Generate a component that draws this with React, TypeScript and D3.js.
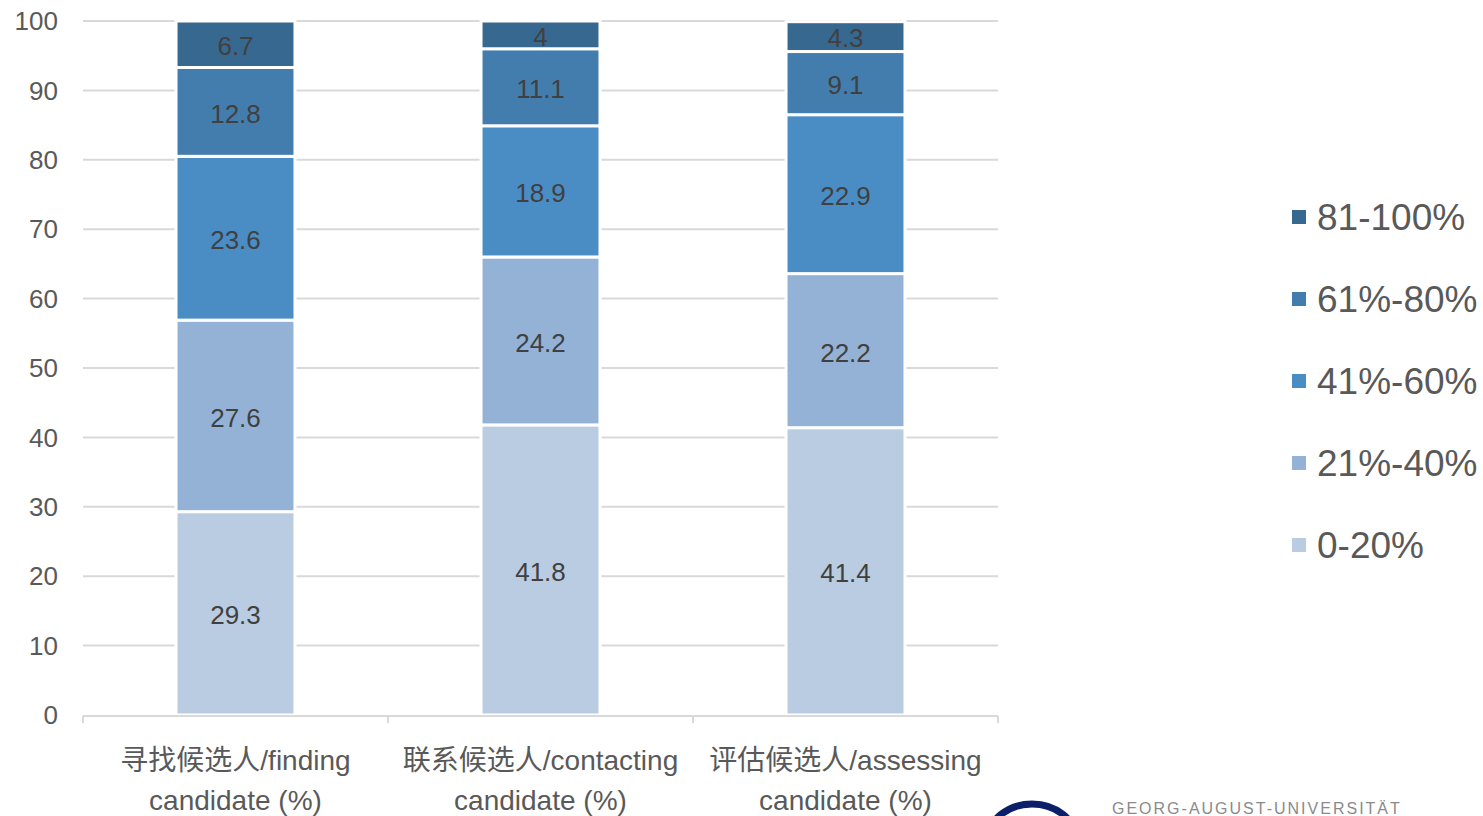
import React from "react";
import * as d3 from "d3";

const categories = ["寻找候选人/finding candidate (%)", "联系候选人/contacting candidate (%)", "评估候选人/assessing candidate (%)"];
const categoryLines = [
  ["寻找候选人/finding", "candidate (%)"],
  ["联系候选人/contacting", "candidate (%)"],
  ["评估候选人/assessing", "candidate (%)"],
];
const seriesNames = ["0-20%", "21%-40%", "41%-60%", "61%-80%", "81-100%"];
const seriesColors = ["#bacce2", "#94b2d6", "#4a8dc5", "#427dad", "#376990"];
const s0_20 = [29.3, 41.8, 41.4];
const s21_40 = [27.6, 24.2, 22.2];
const s41_60 = [23.6, 18.9, 22.9];
const s61_80 = [12.8, 11.1, 9.1];
const s81_100 = [6.7, 4, 4.3];
const yTicks = [0, 10, 20, 30, 40, 50, 60, 70, 80, 90, 100];

const W = 1483, H = 816;
const FONT = "'Liberation Sans', Arial, 'Noto Sans CJK SC', sans-serif";

export default function App() {
  const series = [s0_20, s21_40, s41_60, s61_80, s81_100];
  const rows = categories.map((c, i) => {
    const r: any = { cat: c };
    seriesNames.forEach((n, k) => (r[n] = series[k][i]));
    return r;
  });
  const stacked = d3.stack<any>().keys(seriesNames)(rows);

  const x = d3.scaleBand().domain(categories).range([83, 998]).paddingInner(0.61).paddingOuter(0.305);
  const xOuter = d3.scaleBand().domain(categories).range([83, 998]);
  const y = d3.scaleLinear().domain([0, 100]).range([715, 21]);

  return (
    <svg width={W} height={H} style={{ position: "absolute", left: 0, top: 0, background: "#fff" }} fontFamily={FONT}>
      {/* gridlines */}
      {yTicks.filter((t) => t > 0).map((t) => (
        <line key={t} x1={83} x2={998} y1={y(t)} y2={y(t)} stroke="#d9d9d9" strokeWidth={2} />
      ))}
      {/* y tick labels */}
      {yTicks.map((t) => (
        <text key={t} x={58} y={y(t)} dy="0.35em" textAnchor="end" fontSize={26} fill="#595959">{t}</text>
      ))}
      {/* bars */}
      {stacked.map((layer, k) => (
        <g key={layer.key}>
          {layer.map((d, i) => (
            <rect key={i} x={x(categories[i])} width={x.bandwidth()} y={y(d[1])} height={y(d[0]) - y(d[1])}
              fill={seriesColors[k]} stroke="#fff" strokeWidth={3} />
          ))}
        </g>
      ))}
      {/* data labels */}
      {stacked.map((layer, k) => (
        <g key={"l" + layer.key}>
          {layer.map((d, i) => (
            <text key={i} x={(x(categories[i]) as number) + x.bandwidth() / 2} y={y((d[0] + d[1]) / 2) + 1} dy="0.38em"
              textAnchor="middle" fontSize={26} fill="#404040">{series[k][i]}</text>
          ))}
        </g>
      ))}
      {/* x axis */}
      <line x1={83} x2={998} y1={716} y2={716} stroke="#d9d9d9" strokeWidth={2} />
      {[...categories.map((c) => xOuter(c) as number), 998].map((xv, i) => (
        <line key={i} x1={xv} x2={xv} y1={716} y2={723} stroke="#d9d9d9" strokeWidth={2} />
      ))}
      {categoryLines.map((lines, i) => (
        <text key={i} x={(x(categories[i]) as number) + x.bandwidth() / 2} textAnchor="middle" fontSize={28} fill="#595959">
          {lines.map((l, j) => (
            <tspan key={j} x={(x(categories[i]) as number) + x.bandwidth() / 2} y={770 + j * 40}>{l}</tspan>
          ))}
        </text>
      ))}
      {/* legend */}
      {seriesNames.slice().reverse().map((n, j) => {
        const k = seriesNames.length - 1 - j;
        const cy = 217 + j * 82;
        return (
          <g key={n}>
            <rect x={1292} y={cy - 7} width={14} height={14} fill={seriesColors[k]} />
            <text x={1317} y={cy} dy="0.35em" fontSize={37} fill="#595959">{n}</text>
          </g>
        );
      })}
      {/* partial logo at bottom */}
      <ellipse cx={1032} cy={840} rx={44} ry={36} fill="none" stroke="#0b1f6b" strokeWidth={7} />
      <text x={1112} y={814} fontSize={16} fill="#8a8a8a" letterSpacing={2}>GEORG-AUGUST-UNIVERSITÄT</text>
    </svg>
  );
}
